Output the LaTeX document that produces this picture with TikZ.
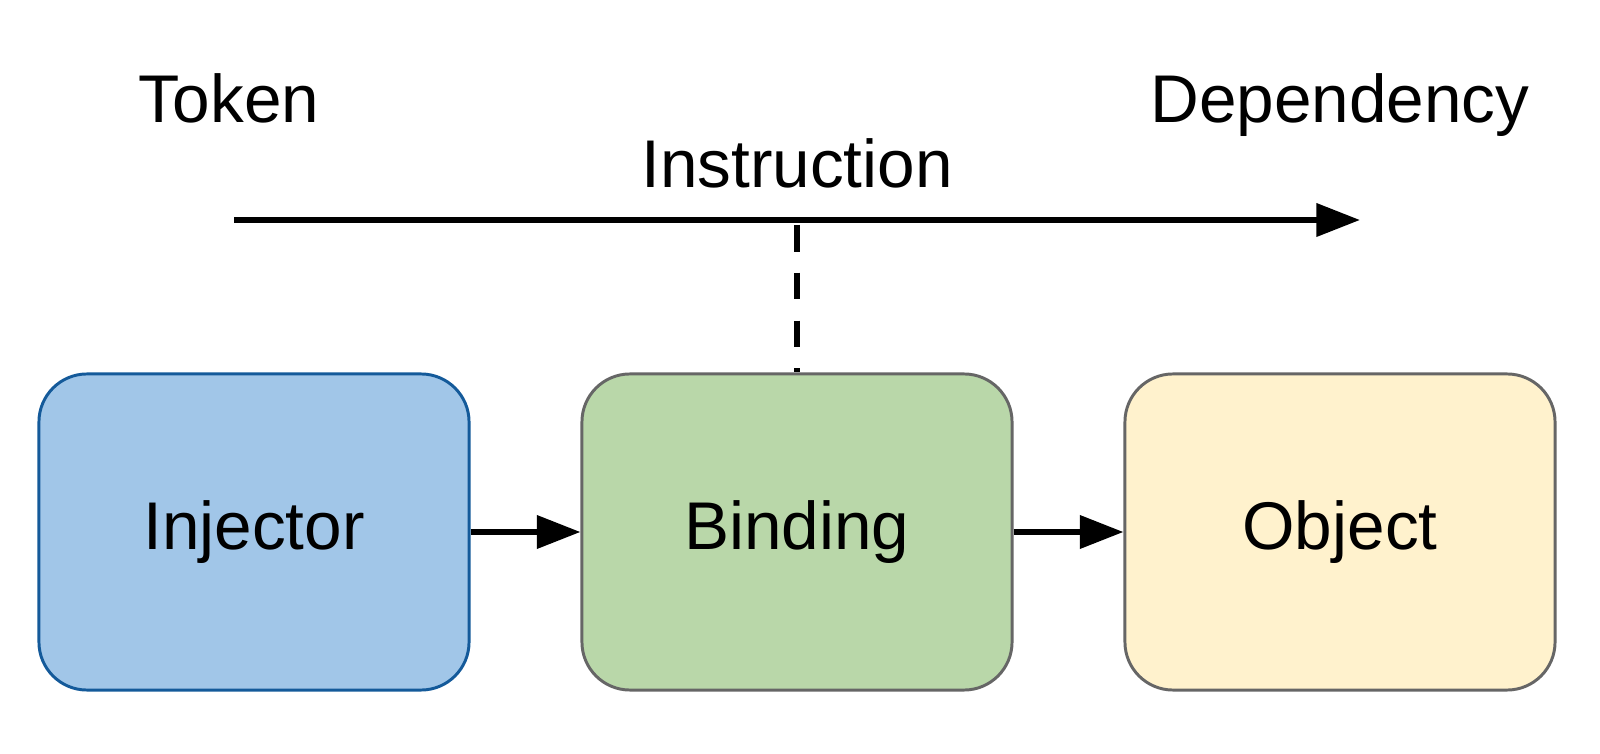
\documentclass[tikz,border=0pt]{standalone}
\usepackage{fontspec}
\setmainfont{Liberation Sans}
\usetikzlibrary{arrows.meta}
\definecolor{injfill}{HTML}{A1C6E8}
\definecolor{injline}{HTML}{145A9A}
\definecolor{bindfill}{HTML}{B9D7A9}
\definecolor{objfill}{HTML}{FFF2CD}
\definecolor{boxline}{HTML}{666666}
\tikzset{
  box/.style={draw,line width=2.1pt,rounded corners=1.2cm,minimum width=10.75cm,minimum height=7.9cm,font=\fontsize{48}{52}\selectfont},
  lbl/.style={font=\fontsize{48}{52}\selectfont,anchor=base},
  flow/.style={line width=4.2pt,-{Triangle[length=31pt,width=23pt]}}
}
\begin{document}
\begin{tikzpicture}[x=0.025cm,y=-0.025cm]
    \useasboundingbox (0,0) rectangle (1600,754);
    % labels above the axis
    \node[lbl] (token) at (229,123) {Token};
    \node[lbl] (dep) at (1340,123) {Dependency};
    \node[lbl] (instr) at (797,188) {Instruction};
    % axis
    \coordinate (axisL) at (234,220);
    \coordinate (axisR) at (1360,220);
    \coordinate (axisM) at (797,220);
    \draw[flow] (axisL) -- (axisR);
    % boxes
    \node[box,fill=injfill,draw=injline] (inj) at (254,532) {Injector};
    \node[box,fill=bindfill,draw=boxline] (bind) at (797,532) {Binding};
    \node[box,fill=objfill,draw=boxline] (obj) at (1340,532) {Object};
    \draw[flow] (inj) -- (bind);
    \draw[flow] (bind) -- (obj);
    \draw[line width=4.2pt,dash pattern=on 19pt off 15pt,dash phase=30.5pt] (axisM) -- (bind.north);
\end{tikzpicture}
\end{document}
